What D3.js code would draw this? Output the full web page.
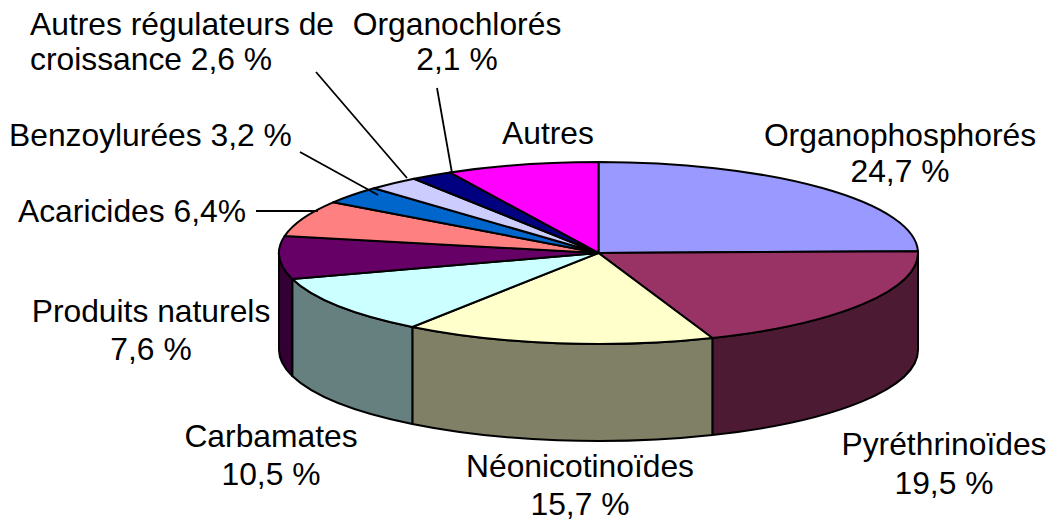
<!DOCTYPE html>
<html lang="fr">
<head>
<meta charset="utf-8">
<script src="https://cdn.jsdelivr.net/npm/d3@7"></script>
<style>
  html, body { margin: 0; background: #fff; }
  svg { display: block; }
  text { font-family: "Liberation Sans", Arial, sans-serif; font-size: 31.8px; fill: #000; }
</style>
</head>
<body>
<svg id="chart" width="1060" height="521"></svg>
<script>
// Values, clockwise from 12 o'clock
const categories = ["Organophosphorés", "Pyréthrinoïdes", "Néonicotinoïdes", "Carbamates", "Produits naturels",
  "Acaricides", "Benzoylurées", "Autres régulateurs de croissance", "Organochlorés", "Autres"];
const shares = [24.7, 19.5, 15.7, 10.5, 7.6, 6.4, 3.2, 2.6, 2.1, 7.7];
const topColors = ["#9999ff", "#993366", "#ffffcc", "#ccffff", "#660066", "#ff8080", "#0066cc", "#ccccff", "#000080", "#ff00ff"];
const wallColors = ["#4d4d80", "#4d1a33", "#808066", "#668080", "#330033", "#804040", "#003366", "#666680", "#000040", "#800080"];

// Label text as printed, one list per line
const labelLines = [
  ["Organophosphorés", "24,7 %"], ["Pyréthrinoïdes", "19,5 %"], ["Néonicotinoïdes", "15,7 %"],
  ["Carbamates", "10,5 %"], ["Produits naturels", "7,6 %"], ["Acaricides 6,4%"], ["Benzoylurées 3,2 %"],
  ["Autres régulateurs de", "croissance 2,6 %"], ["Organochlorés", "2,1 %"], ["Autres"]
];
const labelPlaces = [
  { x: 900, y: 146, gap: 36, anchor: "middle" }, { x: 944, y: 455, gap: 39, anchor: "middle" },
  { x: 580, y: 477, gap: 38, anchor: "middle" }, { x: 271, y: 447, gap: 38, anchor: "middle" },
  { x: 151, y: 322, gap: 38, anchor: "middle" }, { x: 18, y: 222, gap: 0, anchor: "start" },
  { x: 9, y: 146, gap: 0, anchor: "start" }, { x: 30, y: 35, gap: 35, anchor: "start" },
  { x: 457, y: 35, gap: 35, anchor: "middle" }, { x: 548, y: 144, gap: 0, anchor: "middle" }
];
const leaders = [
  [[256, 211], [318, 211]],
  [[300, 152], [378, 195]],
  [[316, 72], [407, 178]],
  [[437, 88], [452, 173]]
];

// Pie geometry
const cx = 598.5, cy = 253, rx = 319.5, ry = 91, depth = 97;

const svg = d3.select("#chart");

const slices = d3.pie().sort(null).value(d => d)(shares)
  .map((s, i) => ({ ...s, i }));

// Point on the tilted rim, angle in radians clockwise from the top
const rim = a => [cx + rx * Math.sin(a), cy - ry * Math.cos(a)];

// Only the front half of the drum shows its wall
function wallPath(s) {
  const a0 = Math.max(s.startAngle, Math.PI / 2);
  const a1 = Math.min(s.endAngle, 3 * Math.PI / 2);
  if (a1 <= a0) return null;
  const [x0, y0] = rim(a0);
  const [x1, y1] = rim(a1);
  return `M${x0},${y0}A${rx},${ry} 0 0 1 ${x1},${y1}L${x1},${y1 + depth}A${rx},${ry} 0 0 0 ${x0},${y0 + depth}Z`;
}

svg.append("g").selectAll("path")
  .data(slices.filter(s => wallPath(s)))
  .join("path")
  .attr("d", wallPath)
  .attr("fill", d => wallColors[d.i])
  .attr("stroke", "#000")
  .attr("stroke-width", 2)
  .attr("stroke-linejoin", "round");

// Top face: flat d3 arcs squashed into the ellipse
const arc = d3.arc().innerRadius(0).outerRadius(rx);

svg.append("g")
  .attr("transform", `translate(${cx},${cy}) scale(1,${ry / rx})`)
  .selectAll("path")
  .data(slices)
  .join("path")
  .attr("d", arc)
  .attr("fill", d => topColors[d.i])
  .attr("stroke", "#000")
  .attr("stroke-width", 2)
  .attr("stroke-linejoin", "round")
  .attr("vector-effect", "non-scaling-stroke");

// Leader lines
svg.append("g").selectAll("line")
  .data(leaders)
  .join("line")
  .attr("x1", d => d[0][0])
  .attr("y1", d => d[0][1])
  .attr("x2", d => d[1][0])
  .attr("y2", d => d[1][1])
  .attr("stroke", "#000")
  .attr("stroke-width", 1.8);

// Labels
const labels = svg.append("g").selectAll("text")
  .data(categories)
  .join("text")
  .attr("text-anchor", (d, i) => labelPlaces[i].anchor);

labels.selectAll("tspan")
  .data((d, i) => labelLines[i].map((line, k) => ({ line, k, place: labelPlaces[i] })))
  .join("tspan")
  .attr("x", d => d.place.x)
  .attr("y", d => d.place.y + d.k * d.place.gap)
  .text(d => d.line);
</script>
</body>
</html>
